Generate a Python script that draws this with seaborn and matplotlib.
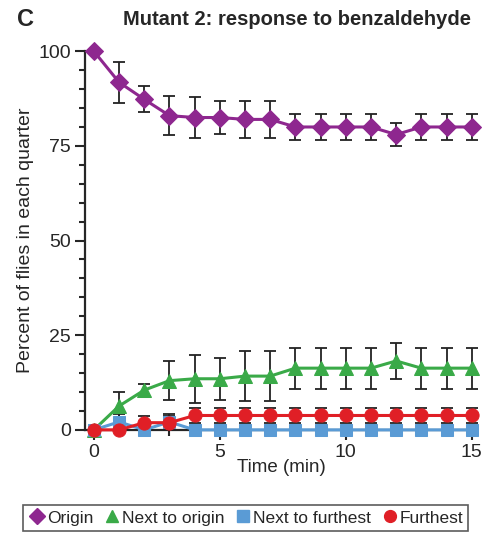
import matplotlib.pyplot as plt
import seaborn as sns
import pandas as pd
from matplotlib.ticker import MultipleLocator
from matplotlib.lines import Line2D

time = list(range(16))
origin = [100, 91.8, 87.3, 83, 82.5, 82.5, 82, 82, 80, 80, 80, 80, 78, 80, 80, 80]
origin_err = [0, 5.4, 3.4, 5.2, 5.3, 4.3, 4.8, 4.8, 3.4, 3.4, 3.4, 3.4, 3, 3.4, 3.4, 3.4]
next_origin = [0, 6.3, 10.5, 13, 13.5, 13.5, 14.2, 14.2, 16.3, 16.3, 16.3, 16.3, 18.2, 16.3, 16.3, 16.3]
next_origin_err = [0, 3.8, 1.7, 5.2, 6.3, 5.5, 6.6, 6.6, 5.4, 5.4, 5.4, 5.4, 4.7, 5.4, 5.4, 5.4]
next_furthest = [0, 2.1, 0, 2.1, 0, 0, 0, 0, 0, 0, 0, 0, 0, 0, 0, 0]
next_furthest_err = [0, 2, 0, 2, 0, 0, 0, 0, 0, 0, 0, 0, 0, 0, 0, 0]
furthest = [0, 0, 1.9, 1.9, 3.8, 3.8, 3.8, 3.8, 3.8, 3.8, 3.8, 3.8, 3.8, 3.8, 3.8, 3.8]
furthest_err = [0, 0, 1.8, 1.8, 2.1, 2.1, 2.1, 2.1, 2.1, 2.1, 2.1, 2.1, 2.1, 2.1, 2.1, 2.1]

names = ["Origin", "Next to origin", "Next to furthest", "Furthest"]
colors = {"Origin": "#8e278f", "Next to origin": "#3aaa48",
          "Next to furthest": "#5a9bd5", "Furthest": "#e01f26"}
markers = {"Origin": "D", "Next to origin": "^", "Next to furthest": "s", "Furthest": "o"}
msize = {"Origin": 9, "Next to origin": 10, "Next to furthest": 9, "Furthest": 9.5}

df = pd.DataFrame({
    "Time": time * 4,
    "Percent": origin + next_origin + next_furthest + furthest,
    "Err": origin_err + next_origin_err + next_furthest_err + furthest_err,
    "Quarter": [n for n in names for _ in time],
})

sns.set_style("ticks")
plt.rcParams['font.family'] = ['Liberation Sans', 'DejaVu Sans']

fig = plt.figure(figsize=(4.86, 5.34), dpi=100)
ax = fig.add_axes([0.175, 0.195, 0.806, 0.709])

# error bars first, then lines/markers on top
for name in names:
    sub = df[df["Quarter"] == name]
    ax.errorbar(sub["Time"], sub["Percent"], yerr=sub["Err"], fmt="none",
                ecolor="#222222", elinewidth=1.3, capsize=4, capthick=1.3,
                zorder=2, clip_on=False)

for name in names:
    sub = df[df["Quarter"] == name]
    sns.lineplot(data=sub, x="Time", y="Percent", color=colors[name],
                 marker=markers[name], markersize=msize[name],
                 markeredgecolor=colors[name], linewidth=2.2, ax=ax,
                 zorder=3, clip_on=False, legend=False)

ax.set_xlim(-0.35, 15.2)
ax.set_ylim(0, 100)
ax.xaxis.set_major_locator(MultipleLocator(5))
ax.xaxis.set_minor_locator(MultipleLocator(1))
ax.yaxis.set_major_locator(MultipleLocator(25))
ax.yaxis.set_minor_locator(MultipleLocator(5))
ax.tick_params(which="major", length=7, width=1.5, labelsize=14, direction="out", pad=3)
ax.tick_params(which="minor", length=4, width=1.5, direction="out")
for s in ["left", "bottom"]:
    ax.spines[s].set_linewidth(1.6)
sns.despine(ax=ax)

ax.set_xlabel("Time (min)", fontsize=13.5, labelpad=-1)
ax.set_ylabel("Percent of flies in each quarter", fontsize=14, labelpad=3)

fig.text(0.612, 0.963, "Mutant 2: response to benzaldehyde", ha="center", va="center",
         fontsize=14.5, fontweight="bold")
fig.text(0.035, 0.963, "C", ha="left", va="center", fontsize=17, fontweight="bold")

handles = [Line2D([], [], linestyle="none", marker=markers[n], color=colors[n],
                  markersize=msize[n] - 1) for n in names]
leg = fig.legend(handles, names, loc="center", bbox_to_anchor=(0.506, 0.03), ncol=4,
                 frameon=True, fontsize=12.5, handletextpad=0.05, columnspacing=0.6,
                 handlelength=1.0, borderpad=0.3, fancybox=False, edgecolor="#333333")
leg.get_frame().set_linewidth(1.2)

fig.savefig("out.png", dpi=100)
